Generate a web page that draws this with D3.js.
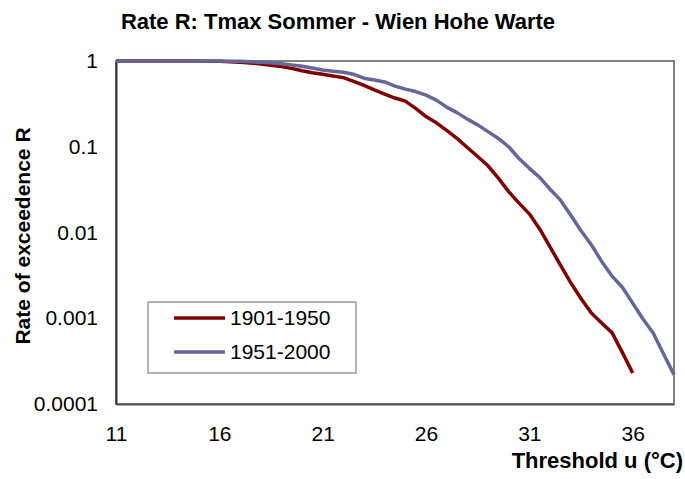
<!DOCTYPE html>
<html>
<head>
<meta charset="utf-8">
<script src="https://cdn.jsdelivr.net/npm/d3@7"></script>
<style>
  body { margin: 0; background: #fff; }
  svg { display: block; font-family: Arial, "Liberation Sans", sans-serif; }
</style>
</head>
<body>
<svg></svg>
<script>
// threshold u (°C), 0.5 steps
var u1 = [11, 11.5, 12, 12.5, 13, 13.5, 14, 14.5, 15, 15.5, 16, 16.5, 17, 17.5, 18, 18.5, 19, 19.5, 20, 20.5,
  21, 21.5, 22, 22.5, 23, 23.5, 24, 24.5, 25, 25.5, 26, 26.5, 27, 27.5, 28, 28.5, 29, 29.5, 30, 30.5,
  31, 31.5, 32, 32.5, 33, 33.5, 34, 34.5, 35, 35.5, 36]
var r1 = [1, 1, 1, 1, 1, 1, 1, 1, 1, 0.995, 0.99, 0.98, 0.966, 0.95, 0.92, 0.89, 0.86, 0.82, 0.77, 0.73,
  0.70, 0.67, 0.64, 0.58, 0.52, 0.46, 0.41, 0.37, 0.34, 0.28, 0.225, 0.19, 0.155, 0.125, 0.098, 0.077, 0.06, 0.043, 0.030, 0.022,
  0.0165, 0.011, 0.0068, 0.0042, 0.0026, 0.0017, 0.00115, 0.00088, 0.00068, 0.0004, 0.00023]

var u2 = [11, 11.5, 12, 12.5, 13, 13.5, 14, 14.5, 15, 15.5, 16, 16.5, 17, 17.5, 18, 18.5, 19, 19.5, 20, 20.5,
  21, 21.5, 22, 22.5, 23, 23.5, 24, 24.5, 25, 25.5, 26, 26.5, 27, 27.5, 28, 28.5, 29, 29.5, 30, 30.5,
  31, 31.5, 32, 32.5, 33, 33.5, 34, 34.5, 35, 35.5, 36, 36.5, 37, 37.5, 38]
var r2 = [1, 1, 1, 1, 1, 1, 1, 1, 1, 1, 1, 0.995, 0.99, 0.98, 0.97, 0.955, 0.93, 0.9, 0.87, 0.83,
  0.785, 0.76, 0.74, 0.70, 0.63, 0.60, 0.57, 0.51, 0.47, 0.44, 0.40, 0.35, 0.29, 0.25, 0.21, 0.18, 0.15, 0.125, 0.10, 0.073,
  0.056, 0.044, 0.032, 0.024, 0.016, 0.0105, 0.0072, 0.0046, 0.0031, 0.0023, 0.0015, 0.00098, 0.00067, 0.00038, 0.00022]

var seriesNames = ['1901-1950', '1951-2000']
var seriesColors = ['#800000', '#666699']
var xTicks = [11, 16, 21, 26, 31, 36]
var yTicks = [1, 0.1, 0.01, 0.001, 0.0001]
var yTickLabels = ['1', '0.1', '0.01', '0.001', '0.0001']

var width = 685
var height = 479
var plot = { left: 116, top: 61, right: 674, bottom: 404 }

var svg = d3.select('svg').attr('width', width).attr('height', height)

var x = d3.scaleLinear().domain([11, 38]).range([plot.left, plot.right])
var y = d3.scaleLog().domain([0.0001, 1]).range([plot.bottom, plot.top])

// plot area frame
svg.append('rect')
  .attr('x', plot.left).attr('y', plot.top)
  .attr('width', plot.right - plot.left).attr('height', plot.bottom - plot.top)
  .attr('fill', 'none').attr('stroke', '#808080').attr('stroke-width', 2)

// axes without tick marks, only labels
var xAxis = svg.append('g')
  .attr('transform', 'translate(0,' + plot.bottom + ')')
  .call(d3.axisBottom(x).tickValues(xTicks).tickSize(0).tickPadding(22).tickFormat(d3.format('d')))
xAxis.select('.domain').attr('stroke', '#555').attr('stroke-width', 2)
xAxis.selectAll('text').attr('font-size', 21).attr('fill', '#000').attr('font-family', 'Arial, "Liberation Sans", sans-serif')

var yAxis = svg.append('g')
  .attr('transform', 'translate(' + plot.left + ',0)')
  .call(d3.axisLeft(y).tickValues(yTicks).tickSize(0).tickPadding(18).tickFormat((d, i) => yTickLabels[i]))
yAxis.select('.domain').attr('stroke', '#333').attr('stroke-width', 2)
yAxis.selectAll('text').attr('font-size', 21).attr('fill', '#000').attr('font-family', 'Arial, "Liberation Sans", sans-serif')

// curves
var line = d3.line().x(d => x(d[0])).y(d => y(d[1]))
var series = [d3.zip(u1, r1), d3.zip(u2, r2)]

svg.append('g').selectAll('path')
  .data(series)
  .enter().append('path')
  .attr('d', line)
  .attr('fill', 'none')
  .attr('stroke', (d, i) => seriesColors[i])
  .attr('stroke-width', 3.5)
  .attr('stroke-linejoin', 'round')

// titles
svg.append('text')
  .attr('x', 338).attr('y', 29)
  .attr('text-anchor', 'middle')
  .attr('font-size', 22).attr('font-weight', 'bold')
  .text('Rate R: Tmax Sommer - Wien Hohe Warte')

svg.append('text')
  .attr('x', 683).attr('y', 468)
  .attr('text-anchor', 'end')
  .attr('font-size', 22).attr('font-weight', 'bold')
  .text('Threshold u (°C)')

svg.append('text')
  .attr('transform', 'translate(30,236) rotate(-90)')
  .attr('text-anchor', 'middle')
  .attr('font-size', 21).attr('font-weight', 'bold')
  .text('Rate of exceedence R')

// legend
var legend = svg.append('g')
legend.append('rect')
  .attr('x', 148).attr('y', 302).attr('width', 208).attr('height', 71)
  .attr('fill', '#fff').attr('stroke', '#999').attr('stroke-width', 1.5)

var items = legend.selectAll('g.item')
  .data(seriesNames)
  .enter().append('g')
  .attr('class', 'item')
  .attr('transform', (d, i) => 'translate(0,' + (318 + i * 34) + ')')
items.append('line')
  .attr('x1', 174).attr('x2', 225)
  .attr('stroke', (d, i) => seriesColors[i]).attr('stroke-width', 3.5)
items.append('text')
  .attr('x', 230).attr('y', 7)
  .attr('font-size', 21)
  .text(d => d)
</script>
</body>
</html>
